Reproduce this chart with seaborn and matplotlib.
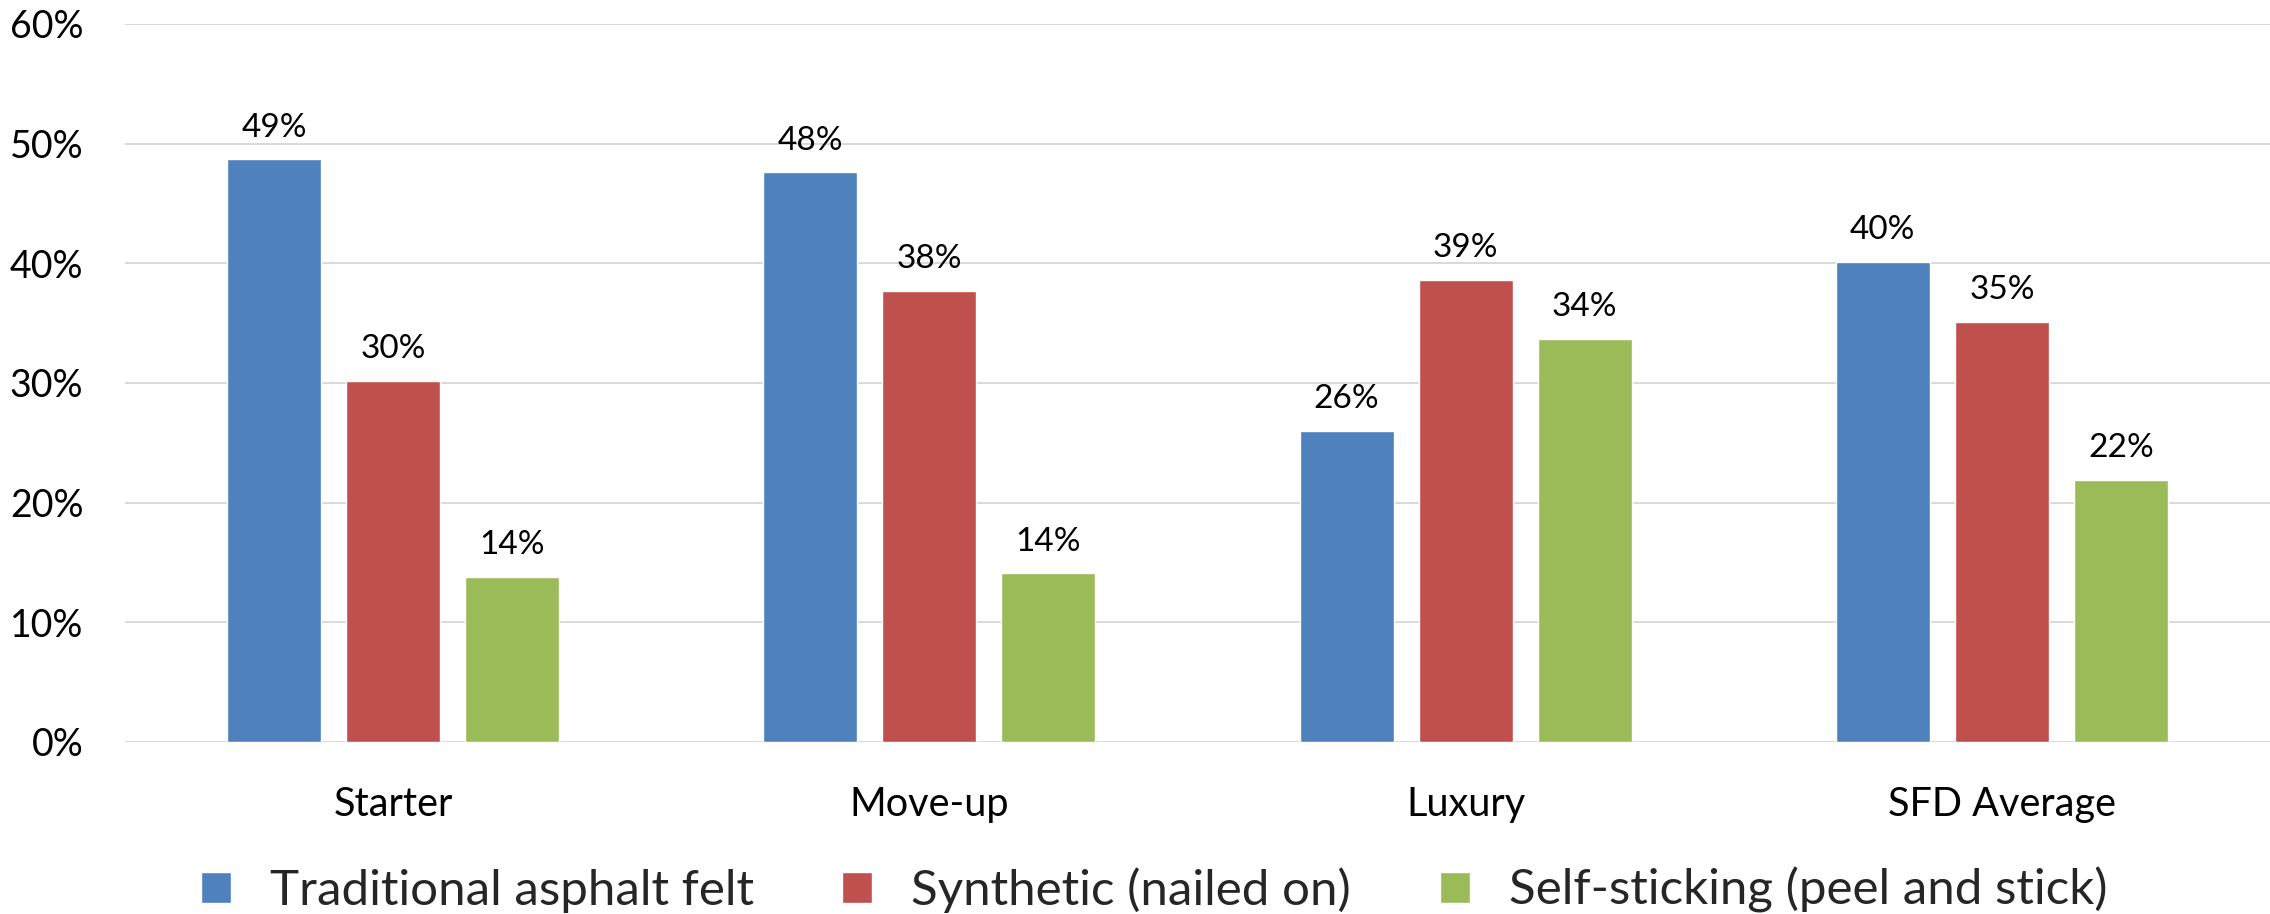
import numpy as np
import pandas as pd
import matplotlib
matplotlib.use('Agg')
import matplotlib.pyplot as plt
import seaborn as sns

# data (percent of homes)
segments = ['Starter', 'Move-up', 'Luxury', 'SFD Average']
underlay_types = ['Traditional asphalt felt', 'Synthetic (nailed on)', 'Self-sticking (peel and stick)']
asphalt_felt = [48.7, 47.6, 26.0, 40.1]
synthetic = [30.2, 37.7, 38.6, 35.1]
self_sticking = [13.8, 14.1, 33.7, 21.9]
y_ticks = [0, 10, 20, 30, 40, 50, 60]

colors = ['#4F81BD', '#C0504D', '#9BBB59']

################################################################################

df = pd.DataFrame({
    'segment': segments * 3,
    'type': np.repeat(underlay_types, len(segments)),
    'share': asphalt_felt + synthetic + self_sticking,
})

sns.set_theme(style='white')
plt.rcParams['font.family'] = ['Lato', 'DejaVu Sans']

fig = plt.figure(figsize=(22.7, 9.14), dpi=100)
ax = fig.add_axes([125 / 2270, 1 - 742 / 914, 1 - 125 / 2270, (742 - 24) / 914])

sns.barplot(data=df, x='segment', y='share', hue='type', order=segments, hue_order=underlay_types,
            palette=colors, saturation=1, width=0.666, gap=0.21, errorbar=None, ax=ax)

for cont in ax.containers:
    vals = cont.datavalues
    ax.bar_label(cont, labels=[f'{v:.0f}%' for v in vals], padding=12, fontsize=24, color='black')

ax.set_ylim(0, 60)
ax.set_xlim(-0.5, 3.5)
ax.set_yticks(y_ticks)
ax.set_yticklabels([f'{t}%' for t in y_ticks])
ax.yaxis.grid(True, color='#D9D9D9', linewidth=1.4)
ax.set_axisbelow(True)
for s in ax.spines.values():
    s.set_visible(False)
ax.tick_params(axis='y', length=0, pad=30, labelsize=27, labelcolor='black')
ax.tick_params(axis='x', length=0, pad=32, labelsize=28.5, labelcolor='black')
ax.set_xlabel('')
ax.set_ylabel('')

sns.move_legend(ax, loc='center', bbox_to_anchor=(1154 / 2270, 0.026), bbox_transform=fig.transFigure,
                ncol=3, frameon=False, title=None, fontsize=35.5,
                handlelength=0.61, handleheight=0.61, handletextpad=0.79, columnspacing=1.8, borderpad=0)

plt.savefig('out.png', dpi=100)
